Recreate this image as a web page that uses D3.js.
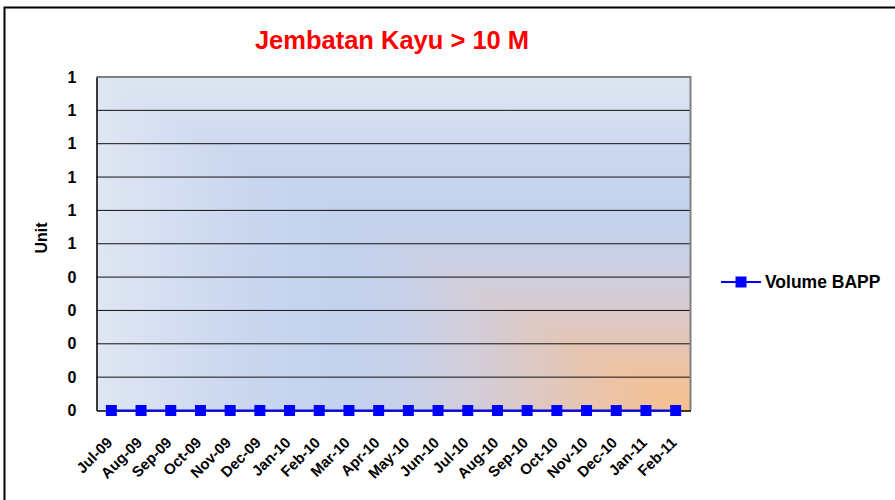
<!DOCTYPE html>
<html><head><meta charset="utf-8">
<script src="https://cdn.jsdelivr.net/npm/d3@7"></script>
<style>body{margin:0;background:#fff}svg{display:block}</style>
</head><body>
<script>
const months = ["Jul-09","Aug-09","Sep-09","Oct-09","Nov-09","Dec-09","Jan-10","Feb-10","Mar-10","Apr-10","May-10","Jun-10","Jul-10","Aug-10","Sep-10","Oct-10","Nov-10","Dec-10","Jan-11","Feb-11"];
const volumeBAPP = [0,0,0,0,0,0,0,0,0,0,0,0,0,0,0,0,0,0,0,0];
const yTickValues = [0,0.1,0.2,0.3,0.4,0.5,0.6,0.7,0.8,0.9,1];
const yTickLabels = ["0","0","0","0","0","1","1","1","1","1","1"];
const seriesName = "Volume BAPP";
const titleText = "Jembatan Kayu > 10 M";
const yTitle = "Unit";

const W = 895, H = 500;
const FONT = "Arial, 'Liberation Sans', sans-serif";
const m = {left: 96.5, right: 690.5, top: 77, bottom: 410.5};
const svg = d3.select("body").append("svg").attr("width", W).attr("height", H)
  .style("font-family", FONT);

// outer border
svg.append("rect").attr("x", 4.5).attr("y", 7.5).attr("width", 900).attr("height", 520)
  .attr("fill", "#fff").attr("stroke", "#000").attr("stroke-width", 2);

// rectangular "path" gradient from the bottom-right corner, built from two layers
const stops = [[0,"#f6c08e"],[0.12,"#eec3a2"],[0.23,"#e1c7bc"],[0.34,"#d5ccd4"],[0.48,"#c7d1e8"],[0.6,"#c3d2ee"],[0.76,"#cbd7ef"],[1,"#dfe6f3"]];
const defs = svg.append("defs");
const gh = defs.append("linearGradient").attr("id", "gh").attr("gradientUnits", "userSpaceOnUse")
  .attr("x1", m.right).attr("y1", 0).attr("x2", m.left).attr("y2", 0);
const gv = defs.append("linearGradient").attr("id", "gv").attr("gradientUnits", "userSpaceOnUse")
  .attr("x1", 0).attr("y1", m.bottom).attr("x2", 0).attr("y2", m.top);
stops.forEach(([o,c]) => { gh.append("stop").attr("offset", o).attr("stop-color", c);
                           gv.append("stop").attr("offset", o).attr("stop-color", c); });

const x = d3.scaleBand().domain(months).range([m.left, m.right]).padding(0);
const y = d3.scaleLinear().domain([0, 1]).range([m.bottom, m.top]);

const L = m.left, R = m.right, T = m.top, B = m.bottom;
svg.append("rect").attr("x", L).attr("y", T).attr("width", R - L).attr("height", B - T).attr("fill", "url(#gv)");
svg.append("path").attr("d", `M${L},${T}L${R},${B}L${L},${B}Z`).attr("fill", "url(#gh)");

// gridlines
svg.append("g").selectAll("line").data(yTickValues.slice(1, -1)).join("line")
  .attr("x1", m.left).attr("x2", m.right)
  .attr("y1", d => y(d)).attr("y2", d => y(d))
  .attr("stroke", "#111").attr("stroke-width", 1);

// plot border top/right grey
svg.append("path").attr("d", `M${m.left},${m.top}H${m.right}V${m.bottom}`)
  .attr("fill", "none").attr("stroke", "#808080").attr("stroke-width", 2);

// y axis
const yAxis = d3.axisLeft(y).tickValues(yTickValues)
  .tickFormat((d, i) => yTickLabels[i]).tickSize(0).tickPadding(20);
const ya = svg.append("g").attr("transform", `translate(${m.left},0)`).call(yAxis);
ya.select(".domain").attr("stroke", "#000").attr("stroke-width", 1.5);
ya.selectAll("text").attr("font-size", 16).attr("font-weight", "bold").attr("fill", "#000")
  .attr("font-family", FONT);

// x axis
const xAxis = d3.axisBottom(x).tickSize(0).tickPadding(0);
const xa = svg.append("g").attr("transform", `translate(0,${m.bottom})`).call(xAxis);
xa.select(".domain").attr("stroke", "#000").attr("stroke-width", 1.5);
xa.selectAll("text").attr("font-size", 15).attr("font-weight", "bold").attr("fill", "#000")
  .attr("font-family", FONT)
  .attr("text-anchor", "end").attr("dy", null).attr("y", 0)
  .attr("transform", "translate(2,33) rotate(-45)");

// series line
const cx = d => x(d) + x.bandwidth() / 2;
svg.append("path").datum(volumeBAPP)
  .attr("d", d3.line().x((d, i) => cx(months[i])).y(d => y(d)))
  .attr("fill", "none").attr("stroke", "#0000ff").attr("stroke-width", 2);
svg.append("g").selectAll("rect").data(volumeBAPP).join("rect")
  .attr("x", (d, i) => cx(months[i]) - 5.5).attr("y", d => y(d) - 5.5)
  .attr("width", 11).attr("height", 11).attr("fill", "#0000ff");

// title
svg.append("text").attr("x", 392).attr("y", 49).attr("text-anchor", "middle")
  .attr("font-size", 25.5).attr("font-weight", "bold").attr("fill", "#ff0000").text(titleText);

// y title
svg.append("text").attr("transform", "translate(47,238) rotate(-90)").attr("text-anchor", "middle")
  .attr("font-size", 16).attr("font-weight", "bold").attr("fill", "#000").text(yTitle);

// legend
const lg = svg.append("g").attr("transform", "translate(721,282)");
lg.append("line").attr("x1", 0).attr("x2", 40).attr("stroke", "#0000ff").attr("stroke-width", 2);
lg.append("rect").attr("x", 14.5).attr("y", -5.5).attr("width", 11).attr("height", 11).attr("fill", "#0000ff");
lg.append("text").attr("x", 44).attr("y", 6).attr("font-size", 17.5).attr("font-weight", "bold")
  .attr("fill", "#000").text(seriesName);
</script>
</body></html>
